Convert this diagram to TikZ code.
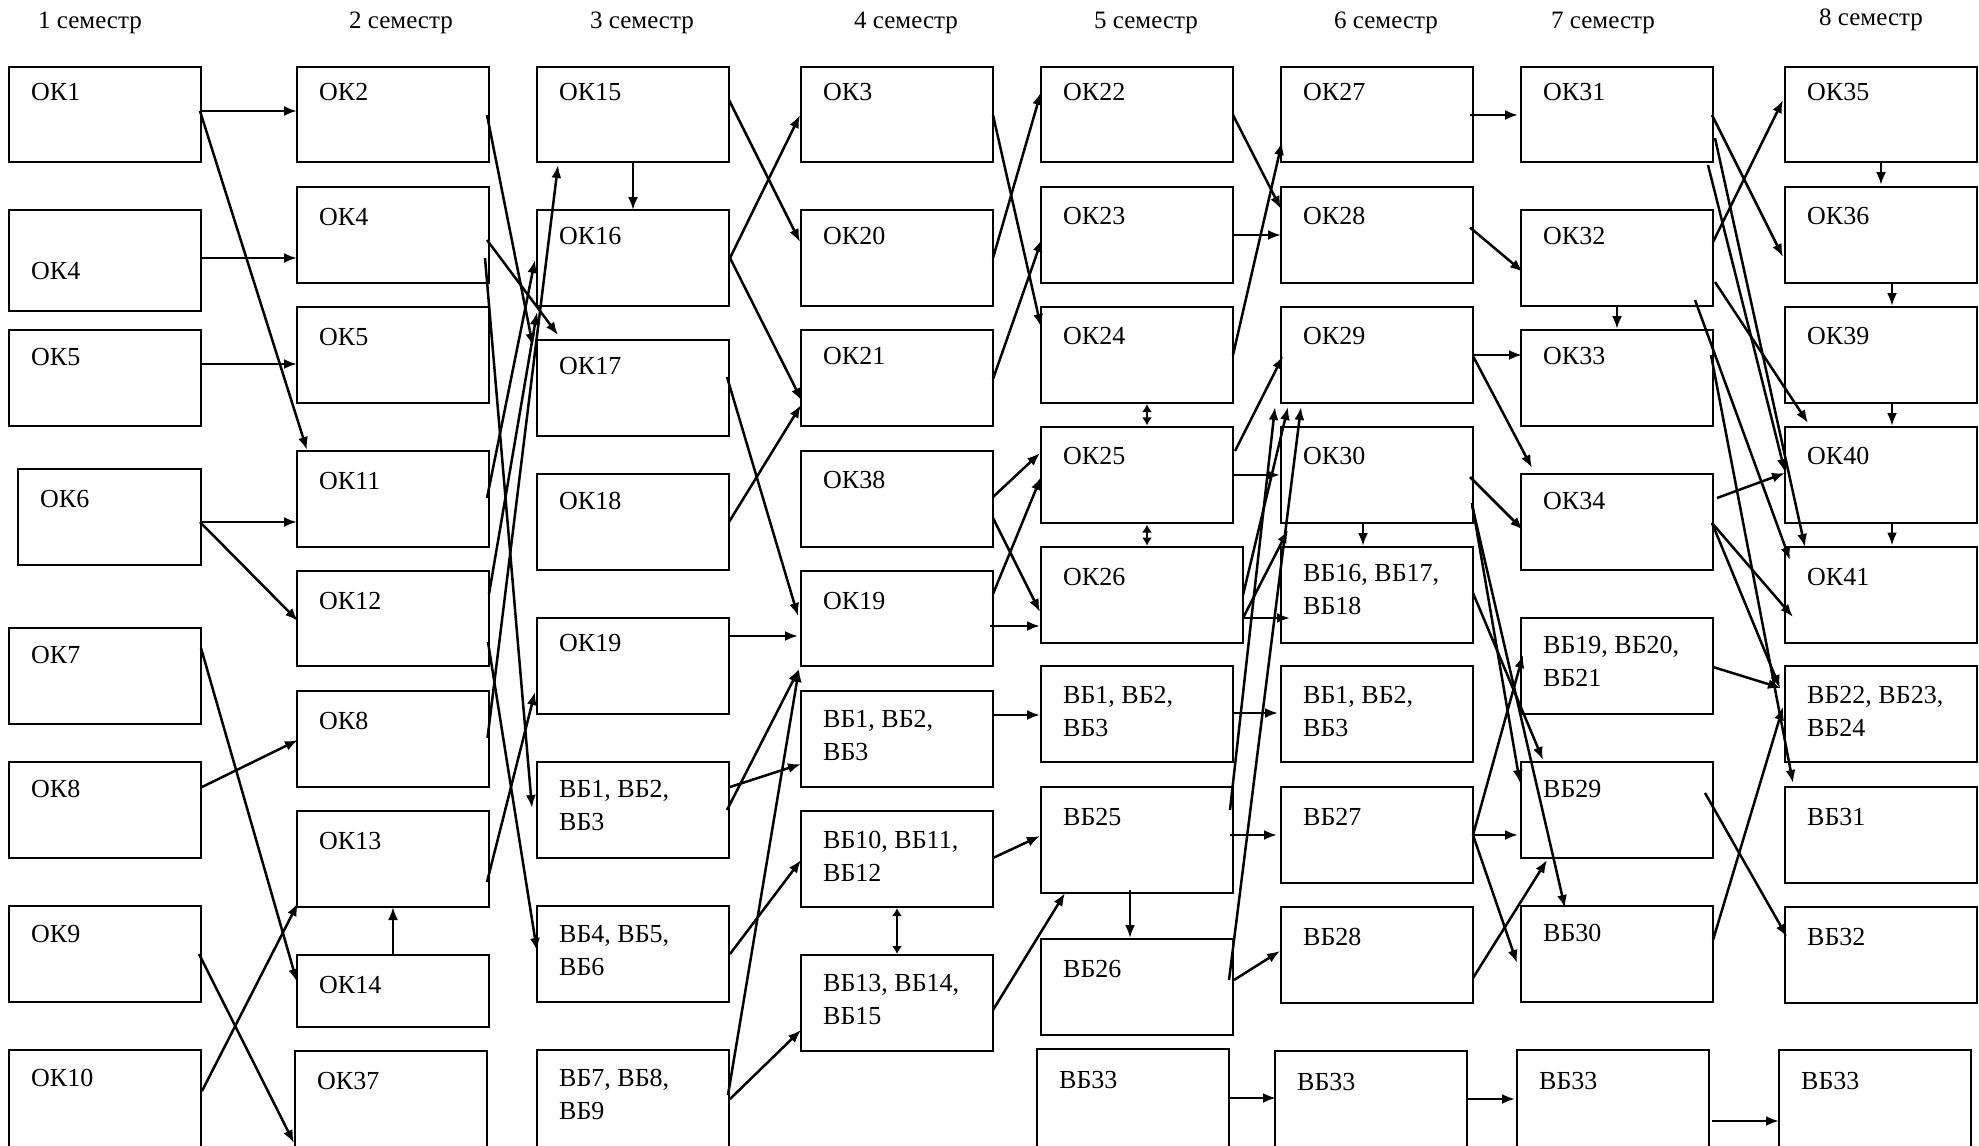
\documentclass[tikz,border=0pt]{standalone}
\usepackage{fontspec}
\setmainfont{Liberation Serif}
\usetikzlibrary{arrows.meta,fit}
\tikzset{
  bx/.style={draw, line width=2.6pt, inner sep=0pt, outer sep=0pt, rectangle},
  lbl/.style={anchor=base west, inner sep=0pt, font=\fontsize{26}{33.3}\selectfont},
  hdr/.style={anchor=base, inner sep=0pt, font=\fontsize{25}{30}\selectfont},
  arr/.style={line width=2.5pt, -{Latex[length=13pt,width=10pt]}},
  dbl/.style={line width=2.5pt, {Latex[length=8pt,width=10pt]}-{Latex[length=8pt,width=10pt]}},
}
\newcommand\two[2]{\vtop{\baselineskip=33.3pt\hbox{#1}\hbox{#2}}}
\newcommand\bx[7][35]{%
  \node[bx, fit={(#3,#4) (#5,#6)}] (#2) {};
  \node[lbl] (#2t) at ([shift={(22,#1)}]#2.north west) {#7};}
\newcommand\lk[5][arr]{\draw[#1] ([shift={(#3)}]#2.north west) -- ([shift={(#5)}]#4.north west);}
\begin{document}
\begin{tikzpicture}[x=1pt,y=-1pt]
\useasboundingbox (0,0) rectangle (1979,1146);
\clip (0,0) rectangle (1979,1146);
% headers
\node[hdr] (s1) at (90,28) {1 семестр};
\node[hdr] (s2) at (401,28) {2 семестр};
\node[hdr] (s3) at (642,28) {3 семестр};
\node[hdr] (s4) at (906,28) {4 семестр};
\node[hdr] (s5) at (1146,28) {5 семестр};
\node[hdr] (s6) at (1386,28) {6 семестр};
\node[hdr] (s7) at (1603,28) {7 семестр};
\node[hdr] (s8) at (1871,25) {8 семестр};
% column 1
\bx[33]{a1}{9}{67}{201}{162}{ОК1}
\bx[69]{a4}{9}{210}{201}{311}{ОК4}
\bx[35.5]{a5}{9}{330}{201}{426}{ОК5}
\bx[38]{a6}{18}{469}{201}{565}{ОК6}
\bx{a7}{9}{628}{201}{724}{ОК7}
\bx{a8}{9}{762}{201}{858}{ОК8}
\bx[36]{a9}{9}{906}{201}{1002}{ОК9}
\bx[36]{a10}{9}{1050}{201}{1150}{ОК10}
% column 2
\bx[33]{b2}{297}{67}{489}{162}{ОК2}
\bx[38]{b4}{297}{187}{489}{283}{ОК4}
\bx[38]{b5}{297}{307}{489}{403}{ОК5}
\bx[38]{b11}{297}{451}{489}{547}{ОК11}
\bx[38]{b12}{297}{571}{489}{666}{ОК12}
\bx[38]{b8}{297}{691}{489}{787}{ОК8}
\bx[38]{b13}{297}{811}{489}{907}{ОК13}
\bx[38]{b14}{297}{955}{489}{1027}{ОК14}
\bx[38]{b37}{295}{1051}{487}{1150}{ОК37}
% column 3
\bx[33]{c15}{537}{67}{729}{162}{ОК15}
\bx[34]{c16}{537}{210}{729}{306}{ОК16}
\bx[34]{c17}{537}{340}{729}{436}{ОК17}
\bx[35]{c18}{537}{474}{729}{570}{ОК18}
\bx[33]{c19}{537}{618}{729}{714}{ОК19}
\bx[35]{cv1}{537}{762}{729}{858}{\two{ВБ1, ВБ2,}{ВБ3}}
\bx[36]{cv4}{537}{906}{729}{1002}{\two{ВБ4, ВБ5,}{ВБ6}}
\bx[36]{cv7}{537}{1050}{729}{1150}{\two{ВБ7, ВБ8,}{ВБ9}}
% column 4
\bx[33]{d3}{801}{67}{993}{162}{ОК3}
\bx[34]{d20}{801}{210}{993}{306}{ОК20}
\bx[34]{d21}{801}{330}{993}{426}{ОК21}
\bx[37]{d38}{801}{451}{993}{547}{ОК38}
\bx[38]{d19}{801}{571}{993}{666}{ОК19}
\bx[36]{dv1}{801}{691}{993}{787}{\two{ВБ1, ВБ2,}{ВБ3}}
\bx[37]{dv10}{801}{811}{993}{907}{\two{ВБ10, ВБ11,}{ВБ12}}
\bx[36]{dv13}{801}{955}{993}{1051}{\two{ВБ13, ВБ14,}{ВБ15}}
% column 5
\bx[33]{e22}{1041}{67}{1233}{162}{ОК22}
\bx[37]{e23}{1041}{187}{1233}{283}{ОК23}
\bx[37]{e24}{1041}{307}{1233}{403}{ОК24}
\bx[37]{e25}{1041}{427}{1233}{523}{ОК25}
\bx[38]{e26}{1041}{547}{1243}{643}{ОК26}
\bx[37]{ev1}{1041}{666}{1233}{762}{\two{ВБ1, ВБ2,}{ВБ3}}
\bx[38]{ev25}{1041}{787}{1233}{893}{ВБ25}
\bx[38]{ev26}{1041}{939}{1233}{1035}{ВБ26}
\bx[39]{ev33}{1037}{1049}{1229}{1150}{ВБ33}
% column 6
\bx[33]{f27}{1281}{67}{1473}{162}{ОК27}
\bx[37]{f28}{1281}{187}{1473}{283}{ОК28}
\bx[37]{f29}{1281}{307}{1473}{403}{ОК29}
\bx[37]{f30}{1281}{427}{1473}{523}{ОК30}
\bx[34]{fv16}{1281}{547}{1473}{643}{\two{ВБ16, ВБ17,}{ВБ18}}
\bx[37]{fv1}{1281}{666}{1473}{762}{\two{ВБ1, ВБ2,}{ВБ3}}
\bx[38]{fv27}{1281}{787}{1473}{883}{ВБ27}
\bx[38]{fv28}{1281}{907}{1473}{1003}{ВБ28}
\bx[39]{fv33}{1275}{1051}{1467}{1150}{ВБ33}
% column 7
\bx[33]{g31}{1521}{67}{1713}{162}{ОК31}
\bx[34]{g32}{1521}{210}{1713}{306}{ОК32}
\bx[34]{g33}{1521}{330}{1713}{426}{ОК33}
\bx[35]{g34}{1521}{474}{1713}{570}{ОК34}
\bx[35]{gv19}{1521}{618}{1713}{714}{\two{ВБ19, ВБ20,}{ВБ21}}
\bx[35]{gv29}{1521}{762}{1713}{858}{ВБ29}
\bx[35]{gv30}{1521}{906}{1713}{1002}{ВБ30}
\bx[39]{gv33}{1517}{1050}{1709}{1150}{ВБ33}
% column 8
\bx[33]{h35}{1785}{67}{1977}{162}{ОК35}
\bx[37]{h36}{1785}{187}{1977}{283}{ОК36}
\bx[37]{h39}{1785}{307}{1977}{403}{ОК39}
\bx[37]{h40}{1785}{427}{1977}{523}{ОК40}
\bx[38]{h41}{1785}{547}{1977}{643}{ОК41}
\bx[37]{hv22}{1785}{666}{1977}{762}{\two{ВБ22, ВБ23,}{ВБ24}}
\bx[38]{hv31}{1785}{787}{1977}{883}{ВБ31}
\bx[38]{hv32}{1785}{907}{1977}{1003}{ВБ32}
\bx[39]{hv33}{1779}{1050}{1971}{1150}{ВБ33}
% connectors 1 -> 2
\lk{a1}{191,44}{b2}{0,44}
\lk{a1}{191,44}{b11}{10,-1}
\lk{a4}{192,48}{b4}{0,71}
\lk{a5}{192,34}{b5}{0,57}
\lk{a6}{183,53}{b11}{0,71}
\lk{a6}{182,53}{b12}{1,50}
\lk{a7}{192,20}{b14}{0,27}
\lk{a8}{193,25}{b8}{1,49}
\lk{a9}{190,48}{b37}{-1,92}
\lk{a10}{193,41}{b13}{1,92}
\lk{b14}{96,0}{b13}{96,96}
% 2 -> 3
\lk{b2}{190,48}{c17}{-4,6.5}
\lk{b4}{190,53}{c17}{21,-5}
\lk{b4}{188,71}{cv1}{-5,46}
\lk{b11}{190,47}{c16}{-2,50}
\lk{b12}{192,23}{c16}{0,102}
\lk{b8}{190.5,47}{c15}{21,98}
\lk{b12}{191,71}{cv4}{0,45}
\lk{b13}{190,71}{c19}{-2,74}
\lk{c15}{96,95}{c16}{96,0}
% 3 -> 4
\lk{c15}{192,33}{d20}{-1,32}
\lk{c16}{193,48}{d3}{-1,48}
\lk{c16}{193,48}{d21}{1,71}
\lk{c18}{192,48}{d21}{0,75}
\lk{c17}{190,37}{d19}{-3,45}
\lk{c19}{192,18}{d19}{-3,65}
\lk{cv1}{193,25}{dv1}{0,73}
\lk{cv1}{190,48}{d19}{-2,98}
\lk{cv4}{193,48}{dv10}{0,49}
\lk{cv7}{193,49}{dv13}{0,75}
\lk{cv7}{191,45}{d19}{-2,98}
\lk[dbl]{dv10}{96,97}{dv13}{96,-1}
% 4 -> 5
\lk{d3}{192,48}{e24}{0,20}
\lk{d20}{192,48}{e22}{0,25}
\lk{d21}{192,49}{e23}{1,52}
\lk{d38}{192,46}{e25}{-1,26}
\lk{d38}{192,67}{e26}{-1,65}
\lk{d19}{192,23}{e25}{0,50}
\lk{d19}{189,55}{e26}{-1,79}
\lk{dv1}{192,24}{ev1}{-1,49}
\lk{dv10}{192,47}{ev25}{-1,49}
\lk{dv13}{192,55}{ev25}{24,106}
\lk[dbl]{e24}{106,97}{e25}{106,-1.6}
\lk[dbl]{e25}{106,97.5}{e26}{106,-1.4}
\lk{ev25}{89,103}{ev26}{89,-1}
\lk{ev33}{192,49}{fv33}{1,47}
% 5 -> 6
\lk{e22}{192,48}{f28}{0,22}
\lk{e23}{192,48}{f28}{0,48}
\lk{e24}{192,48}{f27}{1,75}
\lk{e25}{194,24}{f29}{2,49}
\lk{e25}{192,48}{f30}{-1,48}
\lk{ev25}{189,23}{f29}{-6,100}
\lk{e26}{202,48}{f29}{7,100}
\lk{ev26}{188,41}{f29}{20,100}
\lk{e26}{202,71}{f30}{7,103}
\lk{e26}{202,71}{fv16}{9,71}
\lk{f30}{82,96}{fv16}{82,-1}
\lk{ev1}{191,47}{fv1}{-3,47}
\lk{ev25}{189,48}{fv27}{-4,48}
\lk{ev26}{193,41}{fv28}{-1,44}
% 6 -> 7
\lk{f27}{189,48}{g31}{-3,48}
\lk{f28}{189,40.5}{g32}{2,62}
\lk{f29}{192,48}{g33}{1,25}
\lk{f29}{192,49}{g34}{11,-6}
\lk{f30}{189,50}{g34}{2,56}
\lk{f30}{191,76}{gv29}{-1,21}
\lk{f30}{191,78}{gv30}{44,2}
\lk{fv16}{192,46}{gv29}{22,-2}
\lk{fv27}{192,48}{gv19}{2,37}
\lk{fv27}{192,48}{gv29}{-3,73}
\lk{fv27}{192,48}{gv30}{-4,57}
\lk{fv28}{192,71}{gv29}{26,98}
\lk{fv33}{192,48}{gv33}{-2,49}
\lk{g32}{96,96}{g33}{96,-1}
% 7 -> 8
\lk{g31}{191,48}{h36}{-2,70}
\lk{g31}{194,71}{h41}{20,0}
\lk{g31}{187,98}{h40}{0,45}
\lk{g32}{192,32}{h35}{-2,33}
\lk{g32}{194,72}{h40}{23,-4}
\lk{g32}{174,90}{h41}{5,13}
\lk{g33}{190,25}{hv31}{8,-4}
\lk{g34}{196,24}{h40}{0,46}
\lk{g34}{191,49}{h41}{8,70}
\lk{g34}{191,49}{hv22}{-5,22}
\lk{gv19}{192,49}{hv22}{-4,22}
\lk{gv30}{192,34}{hv22}{-2,41}
\lk{gv29}{184,31}{hv32}{2,30}
\lk{gv33}{195,71}{hv33}{0,71}
\lk{h35}{96,96}{h36}{96,-2}
\lk{h36}{107,96}{h39}{107,-1}
\lk{h39}{107,96}{h40}{107,-1}
\lk{h40}{107,96}{h41}{107,-1.4}
\end{tikzpicture}
\end{document}
